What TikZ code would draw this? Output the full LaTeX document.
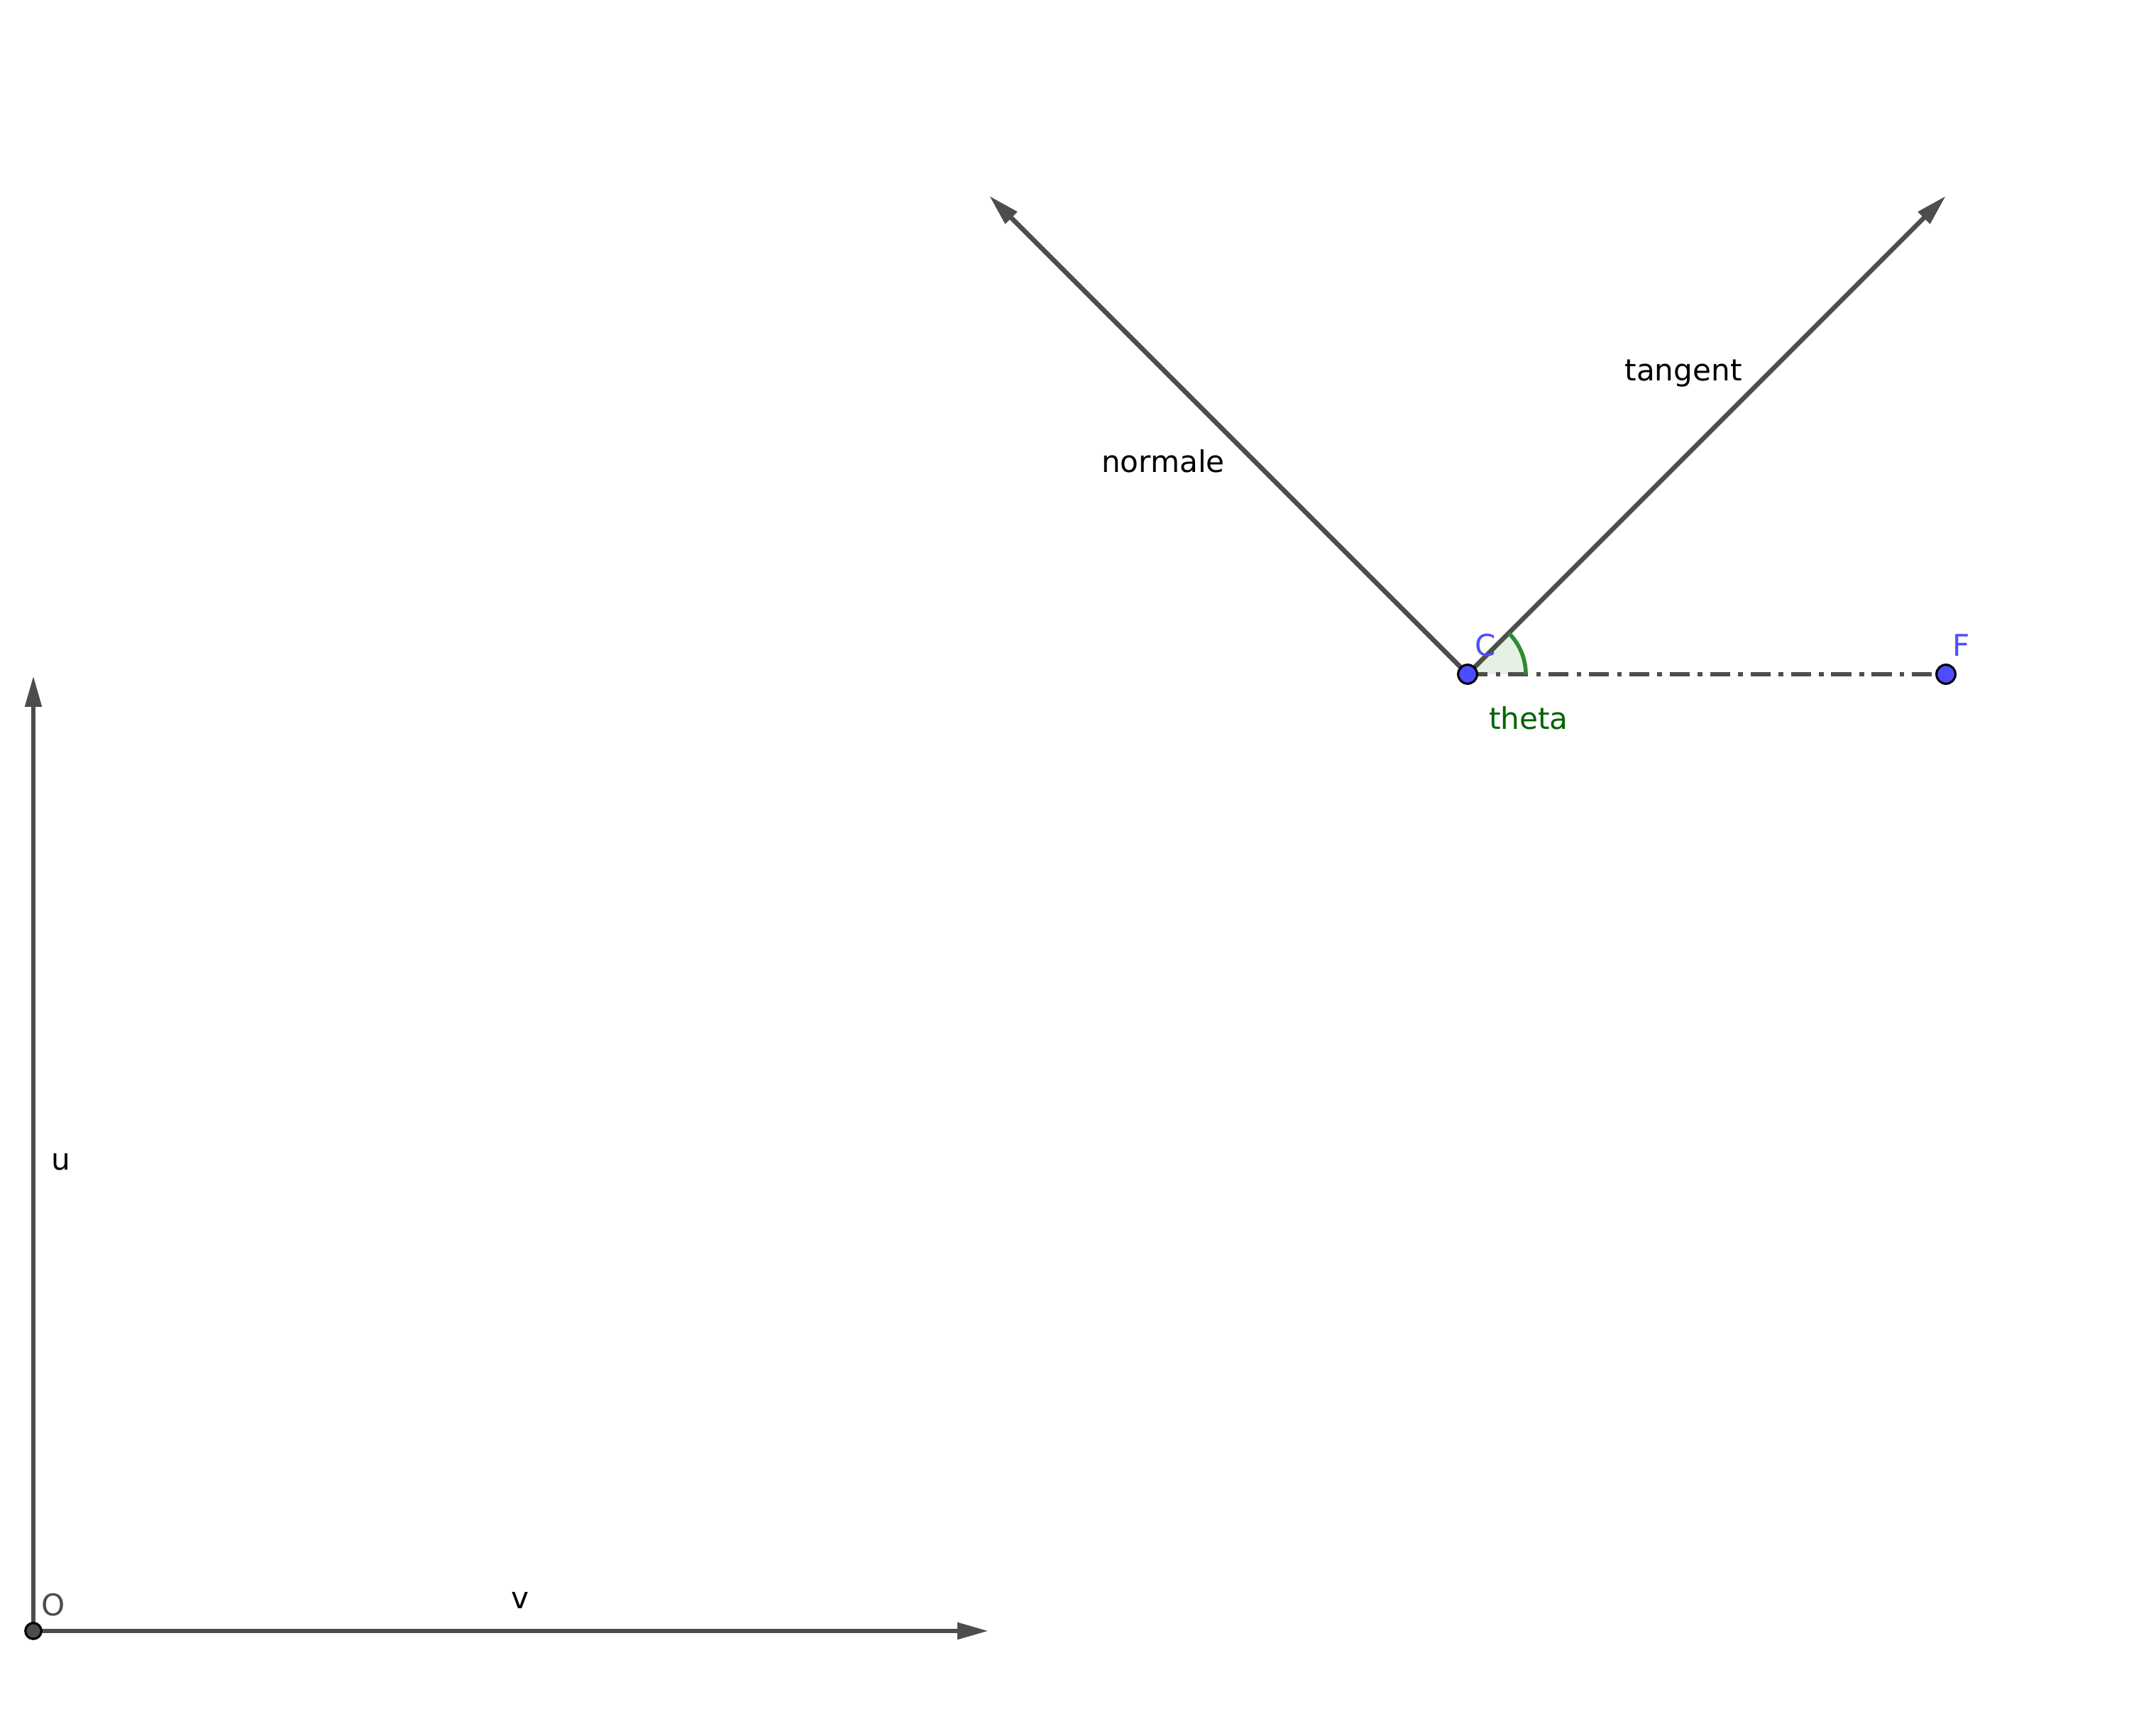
\documentclass[tikz,border=0pt]{standalone}
\usepackage{fontspec}
\setmainfont{DejaVu Sans}
\usetikzlibrary{arrows.meta,angles,quotes,backgrounds}
\definecolor{ggbgray}{HTML}{4D4D4D}
\definecolor{ggbblue}{HTML}{4D4DFF}
\definecolor{ggbgreen}{HTML}{2E8B2E}
\definecolor{thetagreen}{HTML}{006400}

\begin{document}
\begin{tikzpicture}[
    vec/.style={draw=ggbgray,line width=1.9pt,
                -{Triangle[length=12.5pt,width=6.4pt]}},
    pt/.style={circle,draw=black,line width=0.9pt,fill=ggbblue,
               minimum size=7.6pt,inner sep=0pt},
    lbl/.style={font=\fontsize{12}{14}\selectfont,inner sep=0pt}]
  \useasboundingbox (0,0) rectangle (30,24.46);
  \node[pt,fill=ggbgray,minimum size=6.4pt] (O) at (0.47,1.48) {};
  \coordinate (utip) at (0.47,14.94);
  \coordinate (vtip) at (13.93,1.48);
  \node[pt] (C) at (20.68,14.96) {};
  \node[pt] (F) at (27.42,14.96) {};
  \coordinate (ntip) at (13.94,21.70);
  \coordinate (ttip) at (27.42,21.70);
  \begin{scope}[on background layer]
    \draw[vec] (O.center) -- (utip);
    \draw[vec] (O.center) -- (vtip);
    \draw[vec] (C.center) -- (ntip);
    \draw[vec] (C.center) -- (ttip);
    \draw[draw=ggbgray,line width=1.8pt,
          dash pattern=on 8pt off 3.3pt on 1.8pt off 3.1pt]
      (C.center) -- (F.center); % C to F
    \pic[draw=ggbgreen,fill=ggbgreen,fill opacity=0.12,
         angle radius=0.82cm,line width=1.6pt] {angle = F--C--ttip};
  \end{scope}
  % labels
  \node[lbl] (ulbl) at (0.86,8.09) {u};
  \node[lbl] (vlbl) at (7.33,1.91) {v};
  \node[lbl,text=ggbgray] (Olbl) at (0.75,1.85) {O};
  \node[lbl] (nlbl) at (16.39,17.96) {normale};
  \node[lbl] (tlbl) at (23.72,19.20) {tangent};
  \node[lbl,text=ggbblue] (Clbl) at (20.93,15.37) {C};
  \node[lbl,text=ggbblue] (Flbl) at (27.64,15.37) {F};
  \node[lbl,text=thetagreen] (thlbl) at (21.54,14.34) {theta};
\end{tikzpicture}
\end{document}
